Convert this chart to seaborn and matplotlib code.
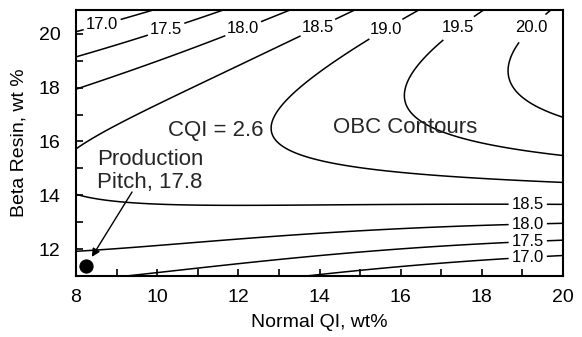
import numpy as np
import pandas as pd
import matplotlib
matplotlib.use("Agg")
import matplotlib.pyplot as plt
import seaborn as sns

# OBC contour traces: Normal QI (wt%) and Beta Resin (wt%) along each level
obc_levels = [17.0, 17.5, 18.0, 18.5, 19.0, 19.5, 20.0]

c170_top_qi = [8.00, 8.60, 9.08, 10.07]
c170_top_br = [20.26, 20.32, 20.48, 20.89]
c175_top_qi = [8.00, 8.90, 9.77, 10.96, 11.67]
c175_top_br = [18.99, 19.42, 19.85, 20.44, 20.89]
c180_top_qi = [8.00, 9.82, 10.70, 11.60, 12.61, 13.27]
c180_top_br = [17.91, 19.03, 19.55, 20.07, 20.44, 20.89]
c185_top_qi = [8.00, 9.40, 10.76, 12.10, 13.52, 14.33, 14.87]
c185_top_br = [15.91, 16.95, 17.99, 19.00, 20.07, 20.52, 20.89]
c190_qi = [16.47, 15.98, 15.32, 14.50, 13.52, 13.10, 12.85, 12.80, 13.02, 13.44, 14.26, 15.49, 16.60, 18.44, 20.00]
c190_br = [20.89, 20.52, 19.85, 19.03, 17.91, 17.25, 16.72, 16.43, 15.80, 15.50, 15.20, 14.94, 14.75, 14.57, 14.46]
c195_qi = [18.12, 17.70, 17.14, 16.47, 16.15, 16.10, 16.28, 17.14, 18.44, 20.00]
c195_br = [20.89, 20.59, 19.88, 18.96, 18.03, 17.54, 17.10, 16.24, 15.94, 15.60]
c200_qi = [19.72, 19.43, 18.94, 18.64, 18.69, 18.94, 20.00]
c200_br = [20.89, 20.52, 19.85, 18.77, 18.17, 17.54, 16.87]
c185_low_qi = [8.00, 11.00, 14.26, 16.50, 18.76, 20.00]
c185_low_br = [13.86, 13.79, 13.71, 13.67, 13.64, 13.60]
c180_low_qi = [8.00, 11.00, 14.26, 16.50, 18.76, 20.00]
c180_low_br = [11.97, 12.33, 12.64, 12.82, 12.97, 13.04]
c175_low_qi = [9.45, 11.80, 14.26, 16.50, 18.76, 20.00]
c175_low_br = [11.00, 11.42, 11.82, 12.06, 12.26, 12.34]
c170_low_qi = [13.89, 16.30, 18.76, 20.00]
c170_low_br = [11.00, 11.38, 11.67, 11.74]

# Fit weight for each trace (the 19.0 fold is the most curved)
traces = [
    (17.0, c170_top_qi, c170_top_br, 1.5), (17.5, c175_top_qi, c175_top_br, 1.5),
    (18.0, c180_top_qi, c180_top_br, 1.5), (18.5, c185_top_qi, c185_top_br, 1.5),
    (19.0, c190_qi, c190_br, 3.0), (19.5, c195_qi, c195_br, 1.5),
    (20.0, c200_qi, c200_br, 1.5),
    (18.5, c185_low_qi, c185_low_br, 1.0), (18.0, c180_low_qi, c180_low_br, 1.0),
    (17.5, c175_low_qi, c175_low_br, 1.0), (17.0, c170_low_qi, c170_low_br, 1.0),
]
obs = pd.DataFrame(
    [(q, b, lvl, wt) for lvl, qs, bs, wt in traces for q, b in zip(qs, bs)],
    columns=["qi", "beta", "obc", "weight"],
)

# Production pitch
prod_qi, prod_beta, prod_obc = 8.25, 11.38, 17.8


# Quartic response surface, weighted least squares through the traces
def design(qi, beta):
    u = (np.asarray(qi) - 14.0) / 6.0
    v = (np.asarray(beta) - 16.0) / 5.0
    cols = [u ** i * v ** (n - i) for n in range(5) for i in range(n + 1)]
    return np.stack(cols, axis=-1)


X = design(obs.qi, obs.beta)
W = obs.weight.to_numpy()
Xw = X * W[:, None]
coef = np.linalg.solve(Xw.T @ Xw + 1e-5 * np.eye(X.shape[1]),
                       Xw.T @ (obs.obc.to_numpy() * W))

xlim = (8, 20)
ylim = (11, 20.88)
gq, gb = np.meshgrid(np.linspace(*xlim, 400), np.linspace(*ylim, 400))
surface = design(gq, gb) @ coef

sns.set_theme(style="ticks")
plt.rcParams["font.family"] = ["Liberation Sans", "DejaVu Sans"]

fig = plt.figure(figsize=(5.82, 3.37), dpi=100)
ax = fig.add_axes([0.1306, 0.181, 0.8368, 0.789])

cs = ax.contour(gq, gb, surface, levels=obc_levels, colors="black", linewidths=1.1)

label_spots = [
    (8.66, 20.26), (10.2, 20.26), (12.1, 20.26), (13.95, 20.26),
    (15.6, 20.26), (17.4, 20.26), (19.2, 20.26),
    (19.13, 13.62), (19.13, 13.0), (19.13, 12.3), (19.13, 11.7),
]
labels = ax.clabel(cs, fmt="%.1f", fontsize=12, inline=True, inline_spacing=3,
                   manual=label_spots)
for t in labels:
    t.set_rotation(0)

sns.scatterplot(x=[prod_qi], y=[prod_beta], s=90, color="black",
                edgecolor="black", ax=ax, zorder=5, legend=False)
ax.annotate("", xy=(8.39, 11.71), xytext=(9.38, 14.12),
            arrowprops=dict(arrowstyle="-|>", color="black", lw=1.0,
                            mutation_scale=12, shrinkA=0, shrinkB=0))
ax.text(8.52, 14.1, f"Production\nPitch, {prod_obc}", fontsize=16,
        ha="left", va="bottom", linespacing=1.12)
ax.text(11.45, 16.4, "CQI = 2.6", fontsize=16, ha="center", va="center")
ax.text(16.1, 16.5, "OBC Contours", fontsize=16, ha="center", va="center")

ax.set_xlim(*xlim)
ax.set_ylim(*ylim)
ax.set_xticks(np.arange(8, 21, 2))
ax.set_xticks(np.arange(9, 20, 2), minor=True)
ax.set_yticks(np.arange(12, 21, 2))
ax.set_yticks(np.arange(11, 21, 2), minor=True)
ax.tick_params(which="both", direction="in", length=5, width=1.2, color="black",
               labelsize=14, labelcolor="black")
ax.tick_params(axis="x", which="major", pad=9)
ax.tick_params(axis="y", which="major", pad=11)
ax.set_xlabel("Normal QI, wt%", fontsize=14, labelpad=6, color="black")
ax.set_ylabel("Beta Resin, wt %", fontsize=14, labelpad=8, color="black")
for s in ax.spines.values():
    s.set_visible(True)
    s.set_linewidth(1.5)
    s.set_color("black")
ax.set_facecolor("white")
fig.patch.set_facecolor("white")

fig.savefig("out.png", dpi=100)
